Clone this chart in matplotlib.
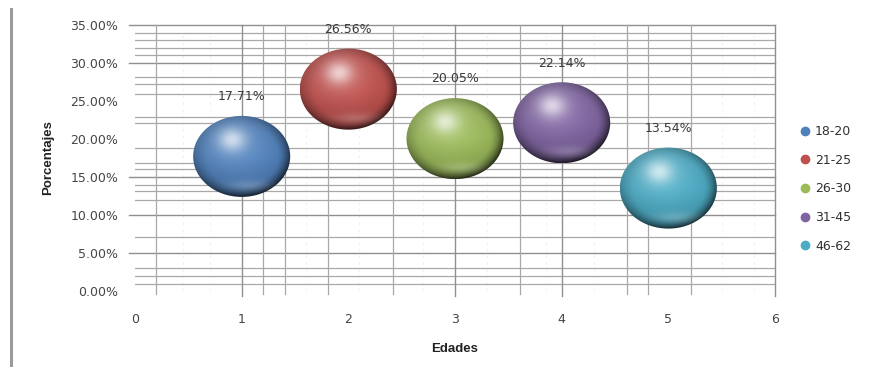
import numpy as np
import matplotlib
matplotlib.use("Agg")
import matplotlib.pyplot as plt
from matplotlib.patches import Ellipse
from matplotlib.lines import Line2D
from matplotlib.colors import to_rgb

# ---- data ----
groups = ["18-20", "21-25", "26-30", "31-45", "46-62"]
x_vals = [1, 2, 3, 4, 5]
percentages = [17.71, 26.56, 20.05, 22.14, 13.54]
labels = ["17.71%", "26.56%", "20.05%", "22.14%", "13.54%"]
colors = ["#4f81bd", "#c0504d", "#9bbb59", "#8064a2", "#4bacc6"]
y_ticks = [0, 5, 10, 15, 20, 25, 30, 35]
y_tick_labels = ["0.00%", "5.00%", "10.00%", "15.00%", "20.00%", "25.00%", "30.00%", "35.00%"]
x_ticks = [0, 1, 2, 3, 4, 5, 6]

# gridline positions as seen in the reference (irregular)
h_major = [35, 30, 15, 10, 5]
h_minor = [34, 33, 32, 31, 28.1, 27.2, 25.9, 22.9, 22.1, 18.8, 16.9, 16.1,
           14, 13.1, 12, 7.1, 3, 2, 0.9]
v_major = [1, 3, 4, 6]
v_minor = [0.2, 1.2, 1.41, 1.81, 2.42, 3.61, 4.61, 4.81, 5.21]

W, H = 870, 367
fig = plt.figure(figsize=(W / 100, H / 100), dpi=100)
ax = fig.add_axes([135 / W, (H - 291) / H, (775 - 135) / W, (291 - 25) / H])
ax.set_xlim(0, 6)
ax.set_ylim(0, 35)
for s in ax.spines.values():
    s.set_visible(False)

grid_c = "#a8a8a8"
for y in h_minor:
    ax.plot([0, 6], [y, y], color=grid_c, lw=0.9, zorder=1)
for y in h_major:
    ax.plot([-0.06, 6], [y, y], color="#8f8f8f", lw=1.0, zorder=1, clip_on=False)
for x in v_minor:
    ax.plot([x, x], [35, -0.4], color=grid_c, lw=0.9, zorder=1, clip_on=False)
for x in v_major:
    ax.plot([x, x], [35, -0.7], color="#8f8f8f", lw=1.0, zorder=1, clip_on=False)

# faint dotted lines
for x in [0.45, 0.7, 1.6, 2.1, 2.7, 3.3, 3.85, 4.3, 5.5, 5.8]:
    ax.plot([x, x], [0, 34], color="#efefef", lw=0.8, ls=(0, (2, 4)), zorder=0.5)

# spheres
bw, bh = 0.91, 10.66
n = 240
u = np.linspace(-1, 1, n)
U, V = np.meshgrid(u, u[::-1])
R = np.clip(np.sqrt(U ** 2 + V ** 2), 0, 1)
D = np.sqrt((U + 0.2) ** 2 + (V - 0.4) ** 2)
spot = 0.55 * np.exp(-(D / 0.28) ** 2) + 0.18 * np.exp(-(D / 0.7) ** 2)
dirw = np.clip(0.55 + 0.45 * (U - V) / 1.4, 0, 1)
edge = np.clip((R - 0.72) / 0.28, 0, 1) ** 1.5
shade = 1.0 - 0.12 * R ** 2 - 0.6 * edge * dirw - 0.12 * np.clip(-V, 0, 1)
refl = 0.18 * np.exp(-(((U - 0.15) / 0.45) ** 2 + ((V + 0.72) / 0.14) ** 2))
for xv, yv, c in zip(x_vals, percentages, colors):
    base = np.array(to_rgb(c))
    img = base[None, None, :] * shade[:, :, None]
    img = img + (1 - img) * spot[:, :, None]
    img = img + (1 - img) * refl[:, :, None]
    img = np.clip(img, 0, 1)
    im = ax.imshow(img, extent=[xv - bw / 2, xv + bw / 2, yv - bh / 2, yv + bh / 2],
                   aspect="auto", zorder=3, interpolation="bilinear")
    ell = Ellipse((xv, yv), bw, bh, transform=ax.transData)
    im.set_clip_path(ell)

for xv, yv, lab in zip(x_vals, percentages, labels):
    ax.annotate(lab, (xv, yv), xytext=(0, 43), textcoords="offset points",
                ha="center", va="center", fontsize=9, color="#3a3a3a",
                family="DejaVu Sans", zorder=5)

ax.set_xlim(0, 6)
ax.set_ylim(0, 35)
ax.set_yticks(y_ticks)
ax.set_yticklabels(y_tick_labels)
ax.set_xticks(x_ticks)
ax.set_xticklabels([str(v) for v in x_ticks])
ax.tick_params(axis="y", length=0, pad=12, labelsize=9, labelcolor="#454545")
ax.tick_params(axis="x", length=0, pad=16, labelsize=9, labelcolor="#454545")
for t in ax.get_xticklabels() + ax.get_yticklabels():
    t.set_family("DejaVu Sans")

ax.set_xlabel("Edades", fontsize=9.5, fontweight="bold", color="#222222",
              family="Liberation Sans", labelpad=12)
ax.set_ylabel("Porcentajes", fontsize=9.5, fontweight="bold", color="#222222",
              family="Liberation Sans", labelpad=12)

handles = [Line2D([], [], ls="none", marker="o", markersize=6,
                  markerfacecolor=c, markeredgecolor=c) for c in colors]
fig.legend(handles, groups, loc="upper left", bbox_to_anchor=(800 / W, (H - 125) / H),
           frameon=False, labelspacing=1.25, handlelength=0.8,
           handletextpad=0.4, borderpad=0, borderaxespad=0,
           prop={"family": "DejaVu Sans", "size": 9})
for t in fig.legends[0].get_texts():
    t.set_color("#303030")

fig.add_artist(Line2D([11.5 / W, 11.5 / W], [0, (H - 9) / H], transform=fig.transFigure,
                      color="#9a9a9a", lw=2.2))

fig.savefig("out.png", dpi=100)
